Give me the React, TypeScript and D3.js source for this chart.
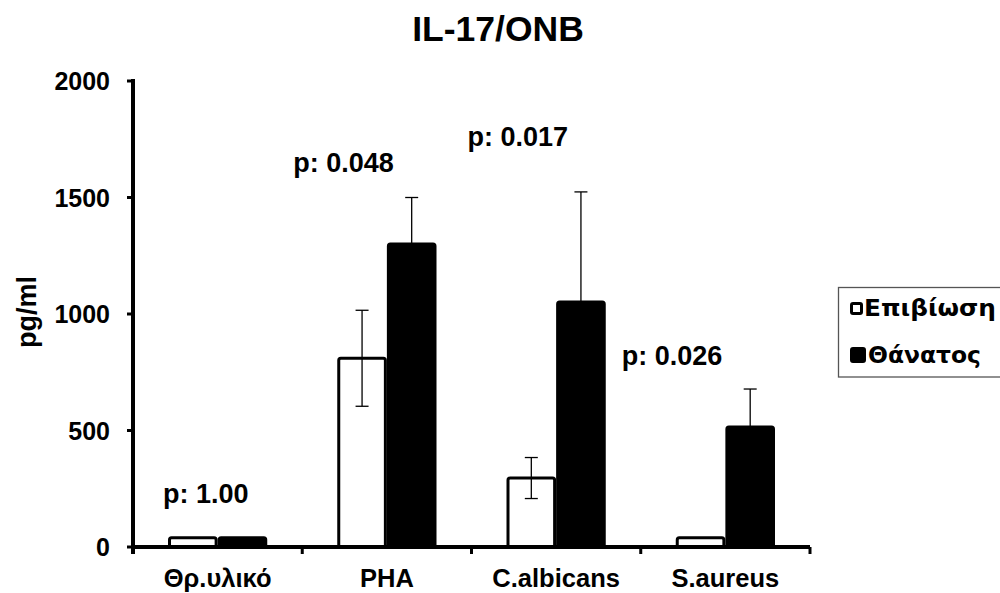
import React from "react";
import * as d3 from "d3";

const categories = ["Θρ.υλικό", "PHA", "C.albicans", "S.aureus"];
const seriesNames = ["Επιβίωση", "Θάνατος"];
const survivalValues = [40, 810, 296, 40];
const survivalErrors = [0, 206, 88, 0];
const deathValues = [40, 1300, 1051, 515];
const deathErrors = [0, 200, 473, 163];
const pLabels = ["p: 1.00", "p: 0.048", "p: 0.017", "p: 0.026"];
const pLabelValues = [189, 1609, 1721, 781];
const yTicks = [0, 500, 1000, 1500, 2000];

const W = 1000;
const H = 593;
const left = 133;
const right = 810;
const top = 81;
const bottom = 547;
const FONT = "'Liberation Sans', Arial, sans-serif";

export default function App() {
  const x = d3.scaleBand<string>().domain(categories).range([left, right]).padding(0);
  const inner = d3.scaleBand<string>().domain(seriesNames).range([35, x.bandwidth() - 35]).padding(0);
  const y = d3.scaleLinear().domain([0, 2000]).range([bottom, top]);

  const series = [
    { name: seriesNames[0], values: survivalValues, errors: survivalErrors, fill: "#fff" },
    { name: seriesNames[1], values: deathValues, errors: deathErrors, fill: "#000" },
  ];

  const tickXs = [...categories.map((c) => x(c)!), right];
  const pOffsets = [30, -9, -4, -19];
  const legendWidths = [132, 113];

  return (
    <svg width={W} height={H} style={{ position: "absolute", left: 0, top: 0, background: "#fff" }}>
      <text x={498} y={41} textAnchor="middle" fontFamily={FONT} fontWeight="bold" fontSize={35.5}>
        IL-17/ONB
      </text>

      {/* bars */}
      {series.map((s) =>
        categories.map((c, i) => {
          const bx = x(c)! + inner(s.name)!;
          const bw = inner.bandwidth();
          const yt = y(s.values[i]);
          return (
            <rect
              key={s.name + c}
              x={bx + 1.5}
              y={yt}
              width={bw - 3}
              height={bottom - yt}
              fill={s.fill}
              stroke="#000"
              strokeWidth={3}
              rx={2}
            />
          );
        })
      )}

      {/* error bars */}
      {series.map((s) =>
        categories.map((c, i) => {
          if (!s.errors[i]) return null;
          const cx = x(c)! + inner(s.name)! + inner.bandwidth() / 2;
          const y1 = y(s.values[i] + s.errors[i]);
          const y2 = y(s.values[i] - s.errors[i]);
          return (
            <g key={"e" + s.name + c} stroke="#000" strokeWidth={1.3}>
              <line x1={cx} x2={cx} y1={y1} y2={y2} />
              <line x1={cx - 6.5} x2={cx + 6.5} y1={y1} y2={y1} />
              <line x1={cx - 6.5} x2={cx + 6.5} y1={y2} y2={y2} />
            </g>
          );
        })
      )}

      {/* axes */}
      <line x1={left} x2={left} y1={top - 2} y2={bottom + 7} stroke="#000" strokeWidth={4} />
      <line x1={left - 2} x2={right} y1={bottom} y2={bottom} stroke="#000" strokeWidth={4} />
      {yTicks.map((t) => (
        <g key={"yt" + t}>
          <line x1={left - 6} x2={left} y1={y(t)} y2={y(t)} stroke="#000" strokeWidth={3} />
          <text x={110} y={y(t) + 9} textAnchor="end" fontFamily={FONT} fontWeight="bold" fontSize={25}>
            {t}
          </text>
        </g>
      ))}
      {tickXs.map((tx, i) => (
        <line key={"xt" + i} x1={tx} x2={tx} y1={bottom} y2={bottom + 7} stroke="#000" strokeWidth={3} />
      ))}
      {categories.map((c) => (
        <text
          key={"cl" + c}
          x={x(c)! + x.bandwidth() / 2}
          y={587}
          textAnchor="middle"
          fontFamily={FONT}
          fontWeight="bold"
          fontSize={25.5}
        >
          {c}
        </text>
      ))}
      <text
        transform={`translate(36, 312) rotate(-90)`}
        textAnchor="middle"
        fontFamily={FONT}
        fontWeight="bold"
        fontSize={27}
      >
        pg/ml
      </text>

      {/* p labels */}
      {pLabels.map((label, i) => (
        <text
          key={"p" + i}
          x={x(categories[i])! + pOffsets[i]}
          y={y(pLabelValues[i])}
          fontFamily={FONT}
          fontWeight="bold"
          fontSize={27}
        >
          {label}
        </text>
      ))}

      {/* legend */}
      <rect x={838.5} y={287.5} width={175} height={89.5} fill="#fff" stroke="#555" strokeWidth={1.3} />
      {series.map((s, k) => (
        <g key={"lg" + s.name}>
          <rect
            x={851.5}
            y={303.5 + k * 45}
            width={k ? 13 : 10}
            height={k ? 13 : 10}
            fill={s.fill}
            stroke="#000"
            strokeWidth={3}
            rx={1.5}
          />
          <text
            x={k ? 868 : 864}
            y={316 + k * 47}
            fontFamily="'DejaVu Sans', Verdana, sans-serif"
            fontWeight="bold"
            fontSize={23}
            textLength={legendWidths[k]}
            lengthAdjust="spacingAndGlyphs"
          >
            {s.name}
          </text>
        </g>
      ))}
    </svg>
  );
}
